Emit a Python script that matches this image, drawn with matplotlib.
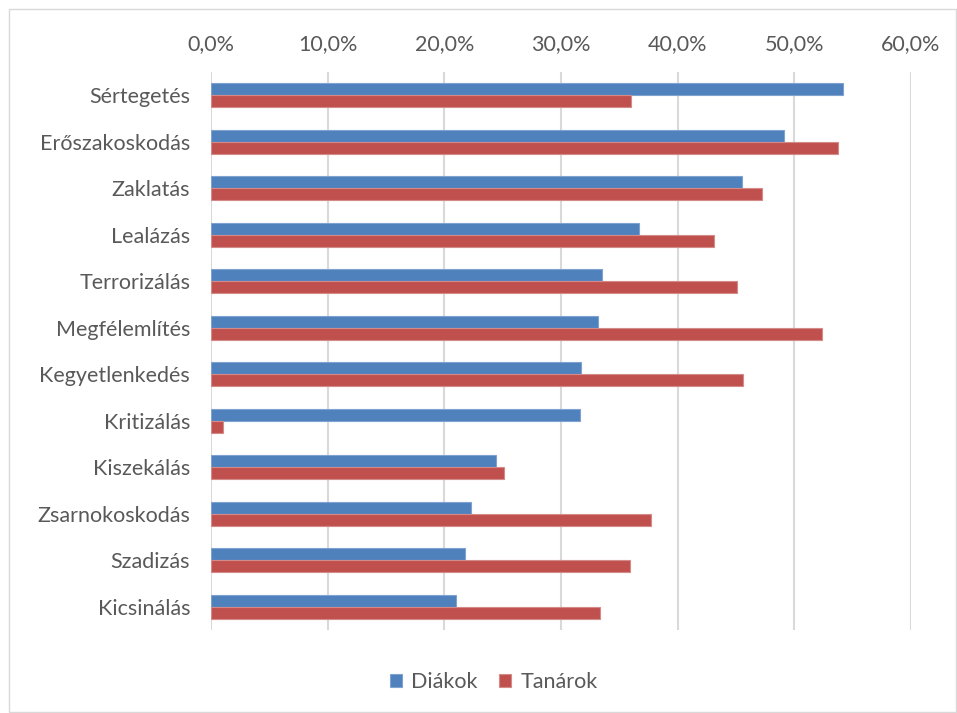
import matplotlib.pyplot as plt
import matplotlib.patches as patches
import numpy as np

# categories from top to bottom
categories = ["Sértegetés", "Erőszakoskodás", "Zaklatás", "Lealázás", "Terrorizálás",
              "Megfélemlítés", "Kegyetlenkedés", "Kritizálás", "Kiszekálás",
              "Zsarnokoskodás", "Szadizás", "Kicsinálás"]
diakok = [54.2, 49.1, 45.5, 36.7, 33.5, 33.2, 31.7, 31.6, 24.4, 22.3, 21.8, 21.0]
tanarok = [36.0, 53.7, 47.2, 43.1, 45.1, 52.4, 45.6, 1.0, 25.1, 37.7, 35.9, 33.3]
ticks = [0, 10, 20, 30, 40, 50, 60]
tick_labels = ["0,0%", "10,0%", "20,0%", "30,0%", "40,0%", "50,0%", "60,0%"]

BLUE = "#4F81BD"
RED = "#C0504D"
TXT = "#595959"
FS = 15.5

plt.rcParams['font.family'] = ['Lato', 'DejaVu Sans']

W, H = 957, 713
fig = plt.figure(figsize=(W / 100, H / 100), dpi=100)
ax = fig.add_axes([211 / W, 1 - 630 / H, 700 / W, 558 / H])

# outer chart border
fig.patches.append(patches.Rectangle((8.5 / W, 1.5 / H), (W - 10) / W, (H - 10) / H,
                                     transform=fig.transFigure, fill=False,
                                     edgecolor="#d9d9d9", linewidth=1))

y = np.arange(len(categories))
h = 0.26
ax.barh(y - h / 2, diakok, height=h, color=BLUE, edgecolor="#7fa3d0", linewidth=0.8,
        label="Diákok", zorder=3)
ax.barh(y + h / 2, tanarok, height=h, color=RED, edgecolor="#d48a88", linewidth=0.8,
        label="Tanárok", zorder=3)

ax.set_xlim(0, 60)
ax.set_ylim(len(categories) - 0.5, -0.5)
ax.set_xticks(ticks)
ax.set_xticklabels(tick_labels)
ax.xaxis.tick_top()
ax.set_yticks(y)
ax.set_yticklabels(categories)
ax.tick_params(axis="both", length=0, colors=TXT, labelsize=FS)
ax.tick_params(axis="x", pad=13)
ax.tick_params(axis="y", pad=15)
ax.grid(axis="x", color="#d9d9d9", linewidth=1.5, zorder=0)
for s in ax.spines.values():
    s.set_visible(False)

leg = fig.legend(loc="center", bbox_to_anchor=(494 / W, 1 - 682 / H), ncol=2,
                 frameon=False, fontsize=FS, handlelength=0.55, handleheight=0.55,
                 handletextpad=0.45, columnspacing=1.0)
for t in leg.get_texts():
    t.set_color(TXT)

fig.savefig("out.png", dpi=100)
